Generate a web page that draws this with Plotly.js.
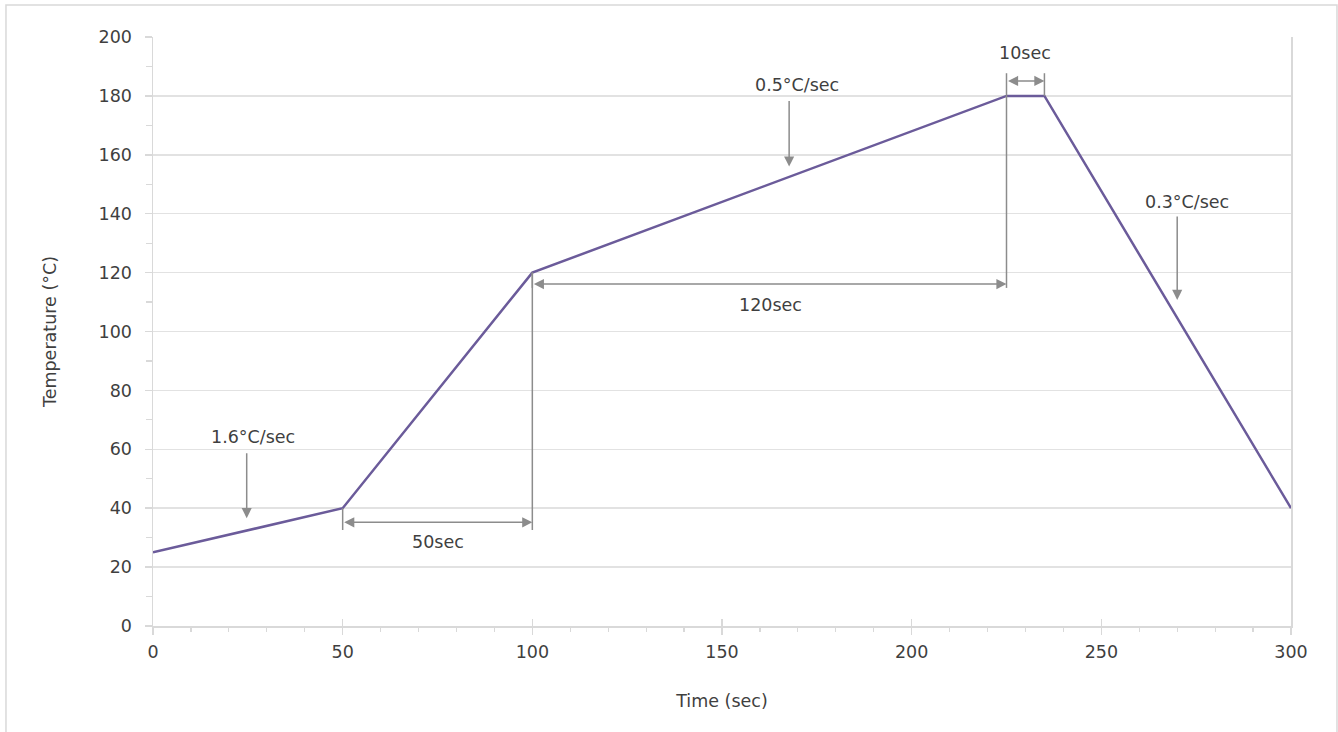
<!DOCTYPE html>
<html>
<head>
<meta charset="utf-8">
<script src="https://cdn.plot.ly/plotly-3.0.1.min.js"></script>
<style>
  html, body { margin: 0; padding: 0; background: #ffffff; }
  #chart { width: 1338px; height: 732px; }
</style>
</head>
<body>
<div id="chart"></div>
<script>
// ---- Data ----
const timeSec = [0, 50, 100, 225, 235, 300];
const tempC   = [25, 40, 120, 180, 180, 40];

// rate call-outs (label text, label position, arrow x, arrow tail y, arrow tip y)
const rateLabels  = ['1.6°C/sec', '0.5°C/sec', '0.3°C/sec'];
const rateLabelX  = [26.4, 169.9, 272.5];
const rateLabelY  = [64.3, 183.7, 144.1];
const rateArrowX  = [24.7, 167.7, 270];
const rateArrowY0 = [59.2, 178.8, 139.6];
const rateArrowY1 = [36.6, 156.0, 110.7];

// duration brackets (label, start/end index into timeSec, bracket arrow level, label position, extension level)
const durLabels   = ['50sec', '120sec', '10sec'];
const durStartIdx = [1, 2, 3];
const durEndIdx   = [2, 3, 4];
const durArrowY   = [35.2, 116.1, 185.1];
const durLabelX   = [75.2, 162.7, 229.9];
const durLabelY   = [28.6, 109.0, 194.4];
const durExtY     = [32.6, 114.8, 187.7];

// tick labels
const xTickVals = [0, 50, 100, 150, 200, 250, 300];
const yTickVals = [0, 20, 40, 60, 80, 100, 120, 140, 160, 180, 200];

// ---- Styles ----
const FONT = '"DejaVu Sans", sans-serif';
const TXT = '#3f3f3f';
const AX = '#d9d9d9';
const ARW = '#8c8c8c';
const FS = 17.5;

const annotations = [];
const shapes = [];

rateLabels.forEach((t, i) => {
  annotations.push({
    x: rateLabelX[i], y: rateLabelY[i], xref: 'x', yref: 'y',
    text: t, showarrow: false, font: {family: FONT, size: FS, color: TXT}
  });
  annotations.push({
    x: rateArrowX[i], y: rateArrowY1[i], ax: rateArrowX[i], ay: rateArrowY0[i],
    xref: 'x', yref: 'y', axref: 'x', ayref: 'y', text: '',
    showarrow: true, arrowhead: 2, arrowsize: 1.35, arrowwidth: 1.5, arrowcolor: ARW, standoff: 0
  });
});

durLabels.forEach((t, i) => {
  const xa = timeSec[durStartIdx[i]], xb = timeSec[durEndIdx[i]];
  annotations.push({
    x: durLabelX[i], y: durLabelY[i], xref: 'x', yref: 'y',
    text: t, showarrow: false, font: {family: FONT, size: FS, color: TXT}
  });
  annotations.push({
    x: xb, y: durArrowY[i], ax: xa, ay: durArrowY[i],
    xref: 'x', yref: 'y', axref: 'x', ayref: 'y', text: '',
    showarrow: true, arrowhead: 2, startarrowhead: 2, arrowside: 'end+start',
    arrowsize: 1.35, startarrowsize: 1.35, arrowwidth: 1.5, arrowcolor: ARW,
    standoff: 0, startstandoff: 0
  });
  [durStartIdx[i], durEndIdx[i]].forEach(k => {
    shapes.push({
      type: 'line', xref: 'x', yref: 'y',
      x0: timeSec[k], x1: timeSec[k], y0: tempC[k], y1: durExtY[i],
      line: {color: ARW, width: 1.5}
    });
  });
});

// outer chart border
shapes.push({
  type: 'rect', xref: 'paper', yref: 'paper',
  x0: -0.1292, x1: 1.0404, y0: -0.25, y1: 1.0543,
  line: {color: '#d9d9d9', width: 1.5}, layer: 'below'
});

const traces = [
  {
    x: timeSec, y: tempC, type: 'scatter', mode: 'lines',
    line: {color: '#6b5b9a', width: 2.5}, hoverinfo: 'skip', showlegend: false
  },
  {
    x: [xTickVals[0], xTickVals[xTickVals.length - 1]], y: [yTickVals[0], yTickVals[0]],
    xaxis: 'x2', yaxis: 'y', type: 'scatter', mode: 'lines',
    line: {color: 'rgba(0,0,0,0)', width: 0}, hoverinfo: 'skip', showlegend: false
  }
];

const layout = {
  width: 1338, height: 732,
  margin: {l: 153, r: 47, t: 37, b: 106},
  paper_bgcolor: '#ffffff', plot_bgcolor: '#ffffff',
  font: {family: FONT, size: FS, color: TXT},
  showlegend: false,
  xaxis: {
    range: [xTickVals[0], xTickVals[xTickVals.length - 1]],
    tickvals: xTickVals, ticktext: xTickVals.map(String),
    showgrid: false, zeroline: false,
    showline: true, linecolor: AX, linewidth: 1.5,
    ticks: 'outside', ticklen: 7, tickwidth: 1.5, tickcolor: AX,
    minor: {dtick: 10, tick0: 0, ticks: 'outside', ticklen: 4, tickwidth: 1.2, tickcolor: AX, showgrid: false},
    tickfont: {family: FONT, size: FS, color: TXT},
    ticklabelstandoff: 2,
    title: {text: 'Time (sec)', font: {family: FONT, size: FS, color: TXT}, standoff: 34},
    fixedrange: true
  },
  xaxis2: {
    overlaying: 'x', anchor: 'y', side: 'bottom',
    range: [xTickVals[0], xTickVals[xTickVals.length - 1]],
    tickvals: xTickVals, showticklabels: false,
    showgrid: false, zeroline: false, showline: false,
    ticks: 'inside', ticklen: 7, tickwidth: 1.5, tickcolor: AX,
    fixedrange: true
  },
  yaxis: {
    range: [yTickVals[0], yTickVals[yTickVals.length - 1]],
    tickvals: yTickVals, ticktext: yTickVals.map(String),
    showgrid: true, gridcolor: '#e2e2e2', gridwidth: 1.5, zeroline: false,
    showline: true, linecolor: AX, linewidth: 1.5, mirror: true,
    ticks: 'outside', ticklen: 7, tickwidth: 1.5, tickcolor: AX,
    minor: {dtick: 10, tick0: 0, ticks: 'outside', ticklen: 6, tickwidth: 1.2, tickcolor: AX, showgrid: false},
    tickfont: {family: FONT, size: FS, color: TXT},
    ticklabelstandoff: 9,
    title: {text: 'Temperature (°C)', font: {family: FONT, size: FS, color: TXT}, standoff: 37},
    fixedrange: true
  },
  annotations: annotations,
  shapes: shapes
};

Plotly.newPlot('chart', traces, layout, {displayModeBar: false, staticPlot: true});
</script>
</body>
</html>
